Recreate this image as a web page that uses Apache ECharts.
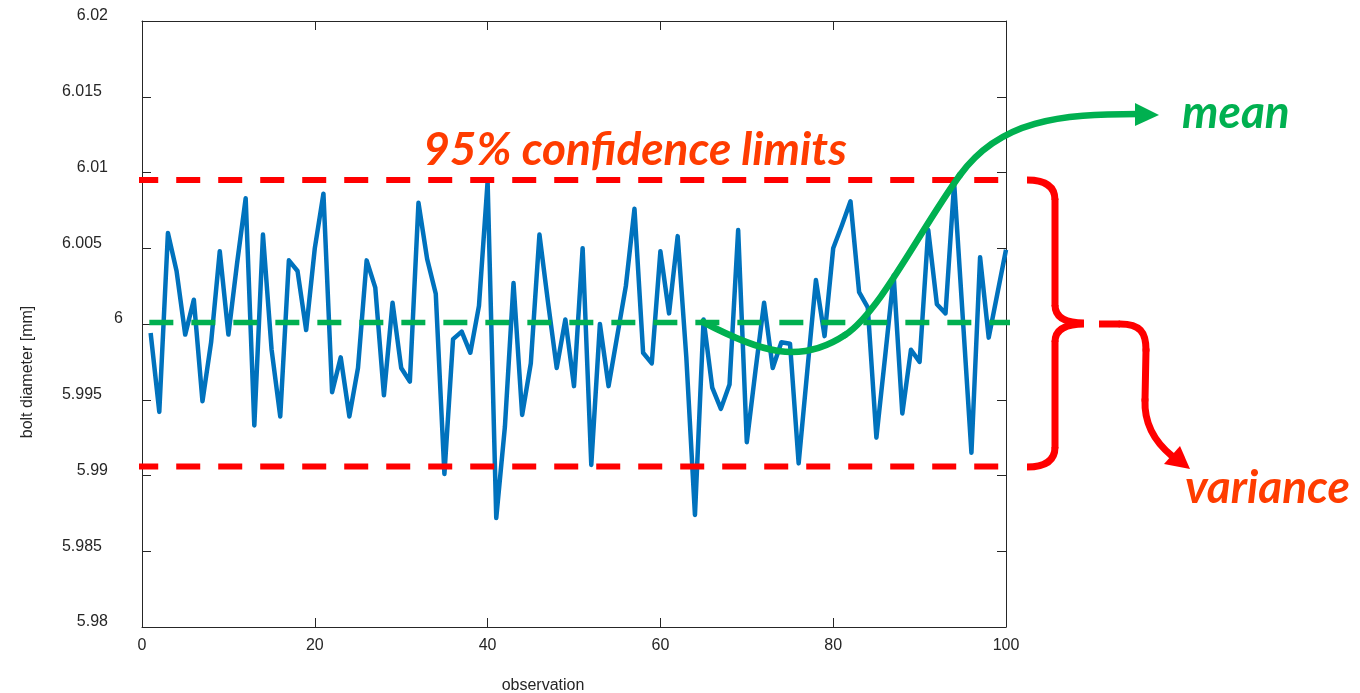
<!DOCTYPE html>
<html>
<head>
<meta charset="utf-8">
<title>Bolt diameter control chart</title>
<script src="https://cdn.jsdelivr.net/npm/echarts@6/dist/echarts.min.js"></script>
<style>
  html, body { margin: 0; padding: 0; background: #ffffff; }
  #chart { width: 1360px; height: 693px; }
</style>
</head>
<body>
<div id="chart"></div>
<script>
// Measured bolt diameters [mm], one per observation (1..100)
const diameters = [
  5.9994, 5.9942, 6.0060, 6.0035, 5.9993, 6.0016, 5.9949, 5.9988, 6.0048, 5.9993,
  6.0040, 6.0083, 5.9933, 6.0059, 5.9983, 5.9939, 6.0042, 6.0035, 5.9996, 6.0050,
  6.0086, 5.9955, 5.9978, 5.9939, 5.9971, 6.0042, 6.0024, 5.9953, 6.0014, 5.9971,
  5.9962, 6.0080, 6.0043, 6.0020, 5.9901, 5.9990, 5.9995, 5.9981, 6.0012, 6.0094,
  5.9872, 5.9932, 6.0027, 5.9940, 5.9974, 6.0059, 6.0014, 5.9971, 6.0003, 5.9959,
  6.0050, 5.9907, 6.0000, 5.9959, 5.9992, 6.0025, 6.0076, 5.9981, 5.9974, 6.0048,
  6.0007, 6.0058, 5.9978, 5.9874, 6.0003, 5.9958, 5.9944, 5.9960, 6.0062, 5.9922,
  5.9969, 6.0014, 5.9971, 5.9988, 5.9987, 5.9908, 5.9969, 6.0029, 5.9992, 6.0050,
  6.0065, 6.0081, 6.0021, 6.0011, 5.9925, 5.9978, 6.0032, 5.9941, 5.9983, 5.9975,
  6.0062, 6.0013, 6.0007, 6.0093, 6.0004, 5.9915, 6.0044, 5.9991, 6.0020, 6.0049
];
const observations = diameters.map((_, i) => i + 1);

// Process mean and 95% confidence limits [mm]
const meanLevel = 6.0001;
const upperLimit = 6.0095;
const lowerLimit = 5.9906;

// Horizontal extent of the reference lines (in observation units)
const limitSpan = [-0.9, 99.1];
const meanSpan = [0.85, 100.5];

// Axis ranges and tick steps
const xRange = [0, 100];
const xStep = 20;
const yRange = [5.98, 6.02];
const yStep = 0.005;

const axisColor = '#262626';
const axisFont = 'Liberation Sans, Arial, Helvetica, sans-serif';
const calloutFont = 'italic bold 46px Lato';
const green = '#00b050';
const red = '#ff0000';
const orangeRed = '#ff3c00';

const chart = echarts.init(document.getElementById('chart'), null, { renderer: 'canvas' });

function yTickLabel(v) {
  const s = String(+v.toFixed(3));
  const key = s.length >= 5 ? 'w5' : (s.length === 4 ? 'w4' : 'w1');
  return '{' + key + '|' + s + '}';
}
const labelBase = { fontSize: 16, color: axisColor, fontFamily: axisFont };

const boxAxis = {
  axisLine: { show: true, onZero: false, lineStyle: { color: axisColor, width: 1 } },
  axisTick: { show: true, inside: true, length: 9, lineStyle: { color: axisColor, width: 1 } },
  splitLine: { show: false }
};

// helpers for callout strokes
function cubic(p0, c1, c2, p1, color, width, cap) {
  return {
    type: 'bezierCurve', z: 20,
    shape: { x1: p0[0], y1: p0[1], cpx1: c1[0], cpy1: c1[1], cpx2: c2[0], cpy2: c2[1], x2: p1[0], y2: p1[1] },
    style: { stroke: color, lineWidth: width, fill: null, lineCap: cap || 'round' }
  };
}
function quad(p0, c, p1, color, width, cap) {
  return {
    type: 'bezierCurve', z: 20,
    shape: { x1: p0[0], y1: p0[1], cpx1: c[0], cpy1: c[1], x2: p1[0], y2: p1[1] },
    style: { stroke: color, lineWidth: width, fill: null, lineCap: cap || 'round' }
  };
}
function seg(p0, p1, color, width, cap) {
  return {
    type: 'line', z: 20,
    shape: { x1: p0[0], y1: p0[1], x2: p1[0], y2: p1[1] },
    style: { stroke: color, lineWidth: width, lineCap: cap || 'round' }
  };
}

const option = {
  animation: false,
  backgroundColor: '#ffffff',
  grid: { left: 142, right: 354, top: 21, bottom: 66, containLabel: false },
  xAxis: [
    Object.assign({
      type: 'value', min: xRange[0], max: xRange[1], interval: xStep, position: 'bottom',
      axisLabel: Object.assign({ margin: 11 }, labelBase)
    }, boxAxis),
    Object.assign({
      type: 'value', min: xRange[0], max: xRange[1], interval: xStep, position: 'top',
      axisLabel: { show: false }
    }, boxAxis)
  ],
  yAxis: [
    Object.assign({
      type: 'value', min: yRange[0], max: yRange[1], interval: yStep, position: 'left',
      axisLabel: {
        margin: 19,
        formatter: yTickLabel,
        rich: {
          w1: Object.assign({ padding: [0, 0, 10, 0] }, labelBase),
          w4: Object.assign({ padding: [0, 15, 10, 0] }, labelBase),
          w5: Object.assign({ padding: [0, 21, 10, 0] }, labelBase)
        }
      }
    }, boxAxis),
    Object.assign({
      type: 'value', min: yRange[0], max: yRange[1], interval: yStep, position: 'right',
      axisLabel: { show: false }
    }, boxAxis)
  ],
  series: [
    {
      name: 'bolt diameter',
      type: 'line',
      xAxisIndex: 0, yAxisIndex: 0,
      data: observations.map((x, i) => [x, diameters[i]]),
      showSymbol: false,
      lineStyle: { color: '#0072bd', width: 4.5, join: 'round' },
      z: 2
    },
    {
      name: 'upper limit',
      type: 'line',
      data: [[limitSpan[0], upperLimit], [limitSpan[1], upperLimit]],
      showSymbol: false, clip: false,
      lineStyle: { color: red, width: 6, type: [24, 18], cap: 'butt' },
      z: 3
    },
    {
      name: 'lower limit',
      type: 'line',
      data: [[limitSpan[0], lowerLimit], [limitSpan[1], lowerLimit]],
      showSymbol: false, clip: false,
      lineStyle: { color: red, width: 6, type: [24, 18], cap: 'butt' },
      z: 3
    },
    {
      name: 'mean',
      type: 'line',
      data: [[meanSpan[0], meanLevel], [meanSpan[1], meanLevel]],
      showSymbol: false, clip: false,
      lineStyle: { color: green, width: 5.5, type: [24, 18], cap: 'butt' },
      z: 3
    }
  ],
  graphic: [
    // axis titles
    {
      type: 'text', x: 543, y: 686,
      style: { text: 'observation', font: '16px ' + axisFont, fill: axisColor, align: 'center', verticalAlign: 'middle' }
    },
    {
      type: 'text', x: 28, y: 372, rotation: Math.PI / 2,
      style: { text: 'bolt diameter [mm]', font: '16px ' + axisFont, fill: axisColor, align: 'center', verticalAlign: 'middle' }
    },
    // callout: confidence limits
    {
      type: 'text', x: 635, y: 150, z: 20,
      style: { text: '95% confidence limits', font: calloutFont, fill: orangeRed, align: 'center', verticalAlign: 'middle' }
    },
    // callout: mean (curved green arrow)
    cubic([703, 322], [760, 352], [800, 365], [845, 335], green, 6.5),
    cubic([845, 335], [880, 312], [920, 230], [960, 175], green, 6.5),
    cubic([960, 175], [1000, 120], [1060, 114], [1138, 114], green, 6.5),
    {
      type: 'polygon', z: 20,
      shape: { points: [[1135, 103], [1159, 115], [1135, 126]] },
      style: { fill: green }
    },
    {
      type: 'text', x: 1182, y: 113, z: 20,
      style: { text: 'mean', font: calloutFont, fill: green, align: 'left', verticalAlign: 'middle' }
    },
    // callout: variance (brace and red arrow)
    quad([1027, 180], [1055, 180], [1055, 200], red, 7, 'butt'),
    seg([1055, 200], [1055, 305], red, 7),
    quad([1055, 305], [1055, 323], [1084, 323], red, 7, 'butt'),
    quad([1084, 324], [1055, 324], [1055, 342], red, 7, 'butt'),
    seg([1055, 342], [1055, 447], red, 7),
    quad([1055, 447], [1055, 467], [1027, 467], red, 7, 'butt'),
    seg([1099, 324], [1120, 324], red, 7, 'butt'),
    cubic([1120, 324], [1140, 324], [1146, 332], [1146, 350], red, 7),
    seg([1146, 350], [1145, 400], red, 7),
    cubic([1145, 400], [1144, 425], [1155, 442], [1172, 456], red, 7),
    {
      type: 'polygon', z: 20,
      shape: { points: [[1164, 464], [1180, 446], [1190, 469]] },
      style: { fill: red }
    },
    {
      type: 'text', x: 1185, y: 488, z: 20,
      style: { text: 'variance', font: calloutFont, fill: orangeRed, align: 'left', verticalAlign: 'middle' }
    }
  ]
};

chart.setOption(option);
</script>
</body>
</html>
